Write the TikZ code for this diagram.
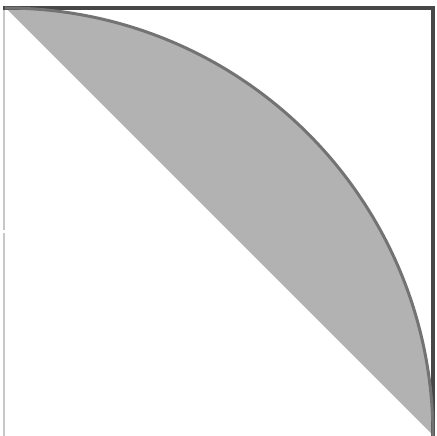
\documentclass[tikz,border=0pt]{standalone}
\begin{document}
\begin{tikzpicture}[x=1pt,y=1pt,
  edgeline/.style={draw=black!72,line width=3.4pt},
  arcline/.style={draw=black!55,line width=3pt},
  faintline/.style={draw=black!22,line width=2pt}]
\useasboundingbox (0,0) rectangle (437,436);
\coordinate (TL) at (5,428);
\coordinate (BR) at (433,0);
\coordinate (TR) at (433,428);
\fill[black!30] (TL) arc[start angle=90,end angle=0,radius=428pt] -- cycle;
\draw[white,line width=1pt] (TL) -- (BR);
\draw[faintline] (4,428) -- (4,206);
\draw[faintline] (4,203) -- (4,0);
\draw[edgeline] (3,428) -- (TR) -- (BR);
\draw[arcline] (TL) arc[start angle=90,end angle=0,radius=428pt];
\end{tikzpicture}
\end{document}
